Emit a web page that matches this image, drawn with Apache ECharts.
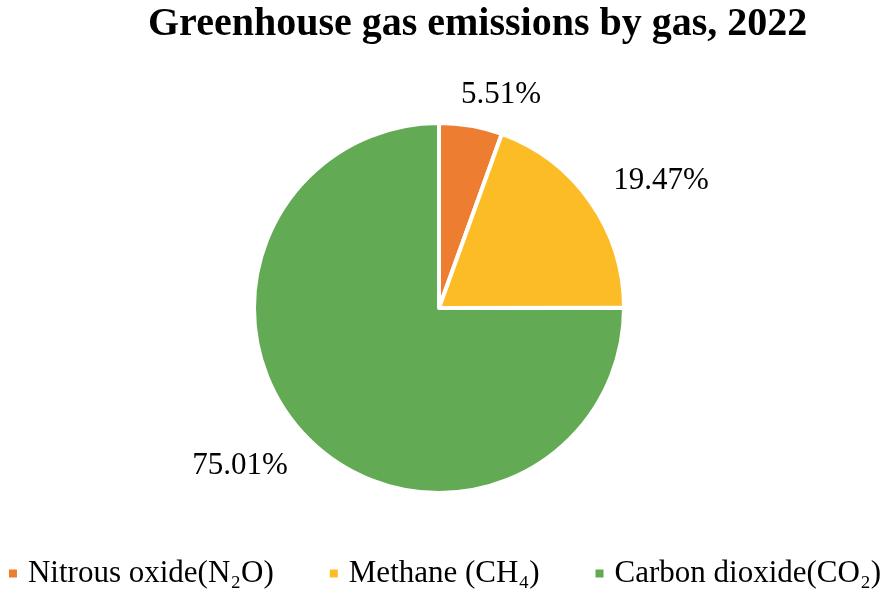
<!DOCTYPE html>
<html><head><meta charset="utf-8">
<script src="https://cdn.jsdelivr.net/npm/echarts@6/dist/echarts.min.js"></script>
<style>html,body{margin:0;padding:0;background:#fff}#c{width:888px;height:591px}</style>
</head><body><div id="c"></div>
<script>
const titleText = 'Greenhouse gas emissions by gas, 2022';
const categories = ['Nitrous oxide(N\u2082O)', 'Methane (CH\u2084)', 'Carbon dioxide(CO\u2082)'];
const values = [5.51, 19.47, 75.01];
const colors = ['#ED7D31', '#FBBC26', '#63AA54'];

const labelPos = [[501, 95], [661, 181], [240, 466]];

const chart = echarts.init(document.getElementById('c'));
chart.setOption({
  backgroundColor: '#fff',
  animation: false,
  color: colors,
  title: {
    text: titleText, left: 143, top: 0,
    textStyle: {fontFamily: 'Liberation Serif', fontSize: 40, fontWeight: 'bold', color: '#000'}
  },
  legend: {
    top: 553, left: 'center',
    itemWidth: 10, itemHeight: 10, itemGap: 54, icon: 'rect',
    textStyle: {fontFamily: 'Liberation Serif', fontSize: 31, color: '#000', padding: [0, 0, 0, 5]},
    data: categories
  },
  series: [{
    type: 'pie',
    center: [439, 308],
    radius: 185,
    startAngle: 90,
    clockwise: true,
    itemStyle: {borderColor: '#fff', borderWidth: 4},
    label: {
      show: true, position: 'outside',
      formatter: p => p.value.toFixed(2) + '%',
      fontFamily: 'Liberation Serif', fontSize: 31, color: '#000'
    },
    labelLine: {show: false},
    labelLayout: p => ({x: labelPos[p.dataIndex][0], y: labelPos[p.dataIndex][1], align: 'center', verticalAlign: 'middle'}),
    data: categories.map((c, i) => ({name: c, value: values[i]}))
  }]
});
</script></body></html>
